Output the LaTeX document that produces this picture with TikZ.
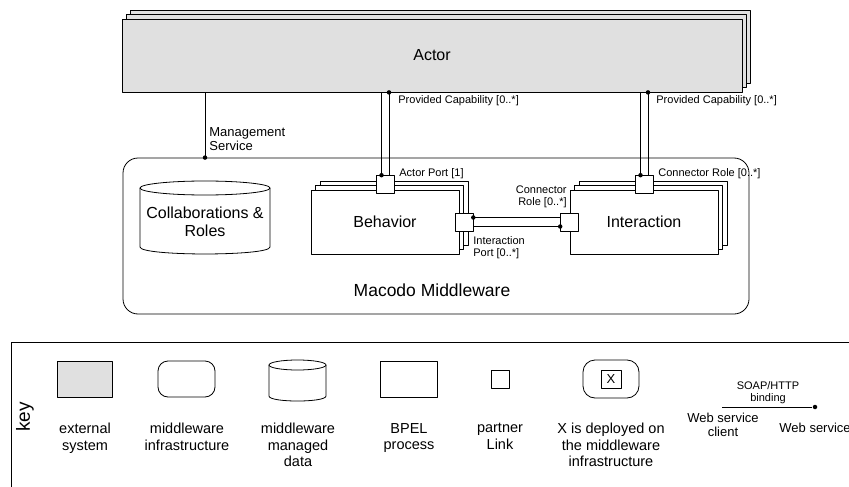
\documentclass[tikz,border=0pt]{standalone}
\usepackage{fontspec}
\setmainfont{Liberation Sans}
\usetikzlibrary{shadows}
\definecolor{extgray}{HTML}{E0E0E0}
\newcommand{\txtbig}{\fontsize{16}{18}\selectfont}
\newcommand{\txtmacodo}{\fontsize{17.5}{20}\selectfont}
\newcommand{\txtmid}{\fontsize{13}{14}\selectfont}
\newcommand{\txtsmall}{\fontsize{11}{12}\selectfont}
\newcommand{\txtleg}{\fontsize{14.5}{16.5}\selectfont}
\newcommand{\txtkey}{\fontsize{19}{20}\selectfont}
\begin{document}
\begin{tikzpicture}[
	x=1pt,
	y=-1pt,
	line join=round,
	line width=0.8pt,
	box/.style={draw, fill=white, inner sep=0pt},
	layered/.style={box,
		copy shadow={shadow xshift=9pt, shadow yshift=9pt, fill=white, draw=black},
		copy shadow={shadow xshift=4.5pt, shadow yshift=4.5pt, fill=white, draw=black}},
	port/.style={box, minimum width=18pt, minimum height=18pt},
	dot/.style={circle, fill, inner sep=0pt, minimum size=4.5pt},
	lbl/.style={font=\txtsmall, inner sep=0pt, align=left},
	legtext/.style={font=\txtleg, align=center, anchor=north, inner sep=0pt},
	]
\useasboundingbox (0,0) rectangle (849,487);
% external system
\node[box, fill=extgray, minimum width=620pt, minimum height=73pt, font=\txtbig,
	copy shadow={shadow xshift=8pt, shadow yshift=9pt, fill=extgray, draw=black},
	copy shadow={shadow xshift=4pt, shadow yshift=4.5pt, fill=extgray, draw=black}]
	(actor) at (432,55.5) {Actor};
% middleware
\node[draw, rounded corners=15pt, minimum width=626pt, minimum height=156pt] (mw) at (436,236) {};
\node[font=\txtmacodo] (mwname) at (432,290) {Macodo Middleware};
\draw[fill=white] (140,188) -- (140,247) .. controls (140,256.3) and (270,256.3) .. (270,247) -- (270,188);
\draw (205,188) ellipse [x radius=65, y radius=7];
\node[font=\txtbig, align=center] (coll) at (205,222) {Collaborations \&\\Roles};
\node[layered, minimum width=148pt, minimum height=64pt, font=\txtbig] (beh) at (385,222) {Behavior};
\node[layered, minimum width=148pt, minimum height=64pt, font=\txtbig] (inter) at (644,222) {Interaction};
% ports
\node[port] (aport) at ([yshift=5pt]beh.north) {};
\node[port] (rport) at ([yshift=5pt]inter.north) {};
\node[port] (iport) at ([xshift=4.5pt]beh.east) {};
\node[port] (crole) at (inter.west) {};
\foreach \p in {aport, rport}
	{
	\coordinate (\p-l) at ([xshift=-3.5pt]\p.north);
	\coordinate (\p-r) at ([xshift=4pt]\p.north);
	\draw (\p-l) -- (\p-l |- actor.south);
	\draw (\p-r) -- (\p-r |- actor.south);
	\node[dot] (\p-in) at (\p-l) {};
	\node[dot] (\p-out) at (\p-r |- actor.south) {};
	}
\coordinate (mgx) at (205,0);
\draw (actor.south -| mgx) -- (mw.north -| mgx) node[dot] (mgdot) {};
\draw ([yshift=4.5pt]iport.east) -- ([yshift=4.5pt]crole.west);
\draw ([yshift=-4.5pt]iport.east) -- ([yshift=-4.5pt]crole.west);
\node[dot] (iport-dot) at ([yshift=4.5pt]iport.east) {};
\node[dot] (crole-dot) at ([yshift=-4.5pt]crole.west) {};
% labels
\node[lbl, anchor=west] (cap1) at (398,101) {Provided Capability [0..*]};
\node[lbl, anchor=west] (cap2) at (656,101) {Provided Capability [0..*]};
\node[lbl, font=\txtmid, anchor=west] (mgmt) at (209,139) {Management\\Service};
\node[lbl, anchor=west] (aportlbl) at (399,174) {Actor Port [1]};
\node[lbl, anchor=west] (rportlbl) at (658,174) {Connector Role [0..*]};
\node[lbl, align=right, anchor=east] (crolelbl) at (567,197) {Connector\\Role [0..*]};
\node[lbl, anchor=west] (iportlbl) at (473,248) {Interaction\\Port [0..*]};
% key
\draw (11,487) -- (11,342) -- (849,342);
\node[rotate=90, font=\txtkey] (key) at (25,417) {key};
\node[box, fill=extgray, minimum width=55pt, minimum height=36pt] (kext) at (84.5,379) {};
\node[box, rounded corners=10pt, minimum width=57pt, minimum height=36pt] (kinfra) at (186.5,379) {};
\draw[fill=white] (269,365) -- (269,396) .. controls (269,402.7) and (326,402.7) .. (326,396) -- (326,365);
\draw (297.5,365) ellipse [x radius=28.5, y radius=5];
\node[box, minimum width=57pt, minimum height=36pt] (kbpel) at (408.5,379) {};
\node[port] (kport) at (500.5,379) {};
\node[box, rounded corners=12pt, minimum width=56pt, minimum height=38pt] (kdep) at (611,379) {};
\node[box, minimum width=20pt, minimum height=18pt, font=\txtmid] (kx) at (kdep) {X};
\foreach \x/\n/\t in {85/ext/{external\\system}, 187/infra/{middleware\\infrastructure},
	298/data/{middleware\\managed\\data}, 409/bpel/{BPEL\\process}, 500/port/{partner\\Link},
	611/dep/{X is deployed on\\the middleware\\infrastructure}}
	\node[legtext] (t\n) at (\x,423) {\t};
\coordinate (wsc) at (722,407);
\node[dot] (ws) at (815,407) {};
\draw (wsc) -- (ws);
\node[lbl, align=center] (soap) at (768,393) {SOAP/HTTP\\binding};
\node[lbl, font=\txtmid, align=center] (wsclbl) at (723,425) {Web service\\client};
\node[lbl, font=\txtmid, anchor=west] (wslbl) at (779,428) {Web service};
\end{tikzpicture}
\end{document}
